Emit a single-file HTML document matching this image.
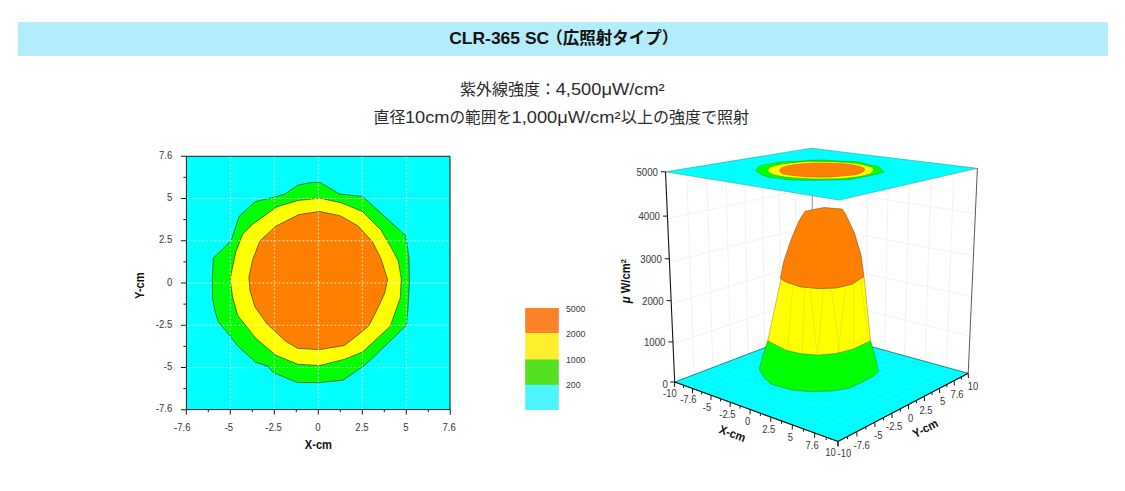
<!DOCTYPE html>
<html lang="ja"><head><meta charset="utf-8"><title>CLR-365 SC</title>
<style>html,body{margin:0;padding:0;background:#fff;}body{width:1125px;height:491px;overflow:hidden;font-family:"Liberation Sans",sans-serif;}svg{display:block;}text{font-family:"Liberation Sans",sans-serif;}text.jp{font-family:"Liberation Sans","Noto Sans CJK JP",sans-serif;}</style>
</head><body>
<svg width="1125" height="491" viewBox="0 0 1125 491" font-family="'Liberation Sans', sans-serif" role="img" aria-label="CLR-365 SC（広照射タイプ） 紫外線強度：4,500μW/cm² 直径10cmの範囲を1,000μW/cm²以上の強度で照射">
<rect x="18" y="22" width="1090" height="34" fill="#b3ecfa"/>
<text x="449.2" y="44" font-size="16.5" fill="#111111" font-weight="bold" text-anchor="start" textLength="100" lengthAdjust="spacingAndGlyphs">CLR-365 SC</text>
<text class="jp" x="546.3" y="44" font-size="16.5" fill="#111111" font-weight="bold" text-anchor="start" textLength="132" lengthAdjust="spacingAndGlyphs">（広照射タイプ）</text>
<text class="jp" x="460" y="94.9" font-size="16" fill="#2b2b2b" font-weight="normal" text-anchor="start" textLength="96" lengthAdjust="spacingAndGlyphs">紫外線強度：</text>
<text x="555.7" y="94.9" font-size="16.5" fill="#2b2b2b" font-weight="normal" text-anchor="start" textLength="109" lengthAdjust="spacingAndGlyphs">4,500μW/cm²</text>
<text class="jp" x="373.5" y="122.9" font-size="16" fill="#2b2b2b" font-weight="normal" text-anchor="start" textLength="32" lengthAdjust="spacingAndGlyphs">直径</text>
<text x="404.9" y="122.9" font-size="16.5" fill="#2b2b2b" font-weight="normal" text-anchor="start" textLength="44.6" lengthAdjust="spacingAndGlyphs">10cm</text>
<text class="jp" x="449.5" y="122.9" font-size="16" fill="#2b2b2b" font-weight="normal" text-anchor="start" textLength="62.5" lengthAdjust="spacingAndGlyphs">の範囲を</text>
<text x="511.5" y="122.9" font-size="16.5" fill="#2b2b2b" font-weight="normal" text-anchor="start" textLength="109" lengthAdjust="spacingAndGlyphs">1,000μW/cm²</text>
<text class="jp" x="621" y="122.9" font-size="16" fill="#2b2b2b" font-weight="normal" text-anchor="start" textLength="128" lengthAdjust="spacingAndGlyphs">以上の強度で照射</text>
<rect x="186.4" y="156.3" width="263.6" height="253.3" fill="#00ffff"/>
<polygon points="319.8,182.2 339.3,194 362.5,196.4 405.5,235.5 408.9,256.5 409.4,282 408,308 406.4,325.2 371.1,359.4 362.5,366.8 343,380.2 319.8,382.6 297.8,382.6 273.5,372.8 267.8,366.3 255.5,362.2 236.8,345 230.3,336.1 218,321.4 214.8,310 212.7,299.6 212.2,280 213.4,258 231.3,240.4 239.1,216.4 255,201.8 284.3,194.4 297.8,185.2 310,182.7" fill="#00ff00" stroke="#223300" stroke-width="0.8" stroke-opacity="0.8" stroke-linejoin="round"/>
<polygon points="319.8,198.1 341.8,203 362.5,211.5 380.9,229.9 390.5,246.3 398.2,260.5 401.3,278.9 400.2,298.3 392.6,319.6 390.2,326.4 362.5,352.1 344.2,359.4 319.8,365.5 297.8,364.3 275.8,355.3 256.2,338.7 237.7,315.5 232.6,297.2 230.1,278.9 235.6,252.4 242.7,234.1 252.5,224.3 277,206.7 297.8,200.5" fill="#ffff00" stroke="#223300" stroke-width="0.8" stroke-opacity="0.8" stroke-linejoin="round"/>
<polygon points="319.8,211.5 340.5,215.9 357.7,225.7 372.3,241.5 380.8,258.5 387.6,279.5 384.6,293.5 374.2,315.5 368.5,326 356.4,336.2 344.2,345.5 319.8,349.6 297.8,348.4 285.5,341.1 267.2,324 255,306.9 250.1,291 248.9,277.5 252.5,260.4 259.9,240.9 275.8,226.2 299,214.5" fill="#ff8000" stroke="#223300" stroke-width="0.8" stroke-opacity="0.8" stroke-linejoin="round"/>
<path d="M230.3 156.3V409.6M186.4 367.5H450M274.3 156.3V409.6M186.4 325.25H450M318.3 156.3V409.6M186.4 283H450M362.3 156.3V409.6M186.4 240.75H450M406.3 156.3V409.6M186.4 198.5H450" stroke="#ffffff" stroke-opacity="0.75" stroke-width="1" stroke-dasharray="2 2" fill="none"/>
<path d="M186.4 156.3H450V409.6H186.4ZM186.3 409.6v5M186.4 409.75h-5.5M230.3 409.6v5M186.4 367.5h-5.5M274.3 409.6v5M186.4 325.25h-5.5M318.3 409.6v5M186.4 283h-5.5M362.3 409.6v5M186.4 240.75h-5.5M406.3 409.6v5M186.4 198.5h-5.5M450.3 409.6v5M186.4 156.25h-5.5M208.3 409.6v2.7M186.4 388.62h-3M252.3 409.6v2.7M186.4 346.38h-3M296.3 409.6v2.7M186.4 304.12h-3M340.3 409.6v2.7M186.4 261.88h-3M384.3 409.6v2.7M186.4 219.62h-3M428.3 409.6v2.7M186.4 177.38h-3" stroke="#1a1a1a" stroke-width="1" fill="none"/>
<text transform="translate(182.3 430.7) scale(0.87 1)" font-size="11" text-anchor="middle" fill="#383838" font-weight="normal">-7.6</text>
<text transform="translate(172.3 412.45) scale(0.87 1)" font-size="11" text-anchor="end" fill="#383838" font-weight="normal">-7.6</text>
<text transform="translate(228.9 430.7) scale(0.87 1)" font-size="11" text-anchor="middle" fill="#383838" font-weight="normal">-5</text>
<text transform="translate(172.3 370.2) scale(0.87 1)" font-size="11" text-anchor="end" fill="#383838" font-weight="normal">-5</text>
<text transform="translate(273.5 430.7) scale(0.87 1)" font-size="11" text-anchor="middle" fill="#383838" font-weight="normal">-2.5</text>
<text transform="translate(172.3 327.95) scale(0.87 1)" font-size="11" text-anchor="end" fill="#383838" font-weight="normal">-2.5</text>
<text transform="translate(318 430.7) scale(0.87 1)" font-size="11" text-anchor="middle" fill="#383838" font-weight="normal">0</text>
<text transform="translate(172.3 285.7) scale(0.87 1)" font-size="11" text-anchor="end" fill="#383838" font-weight="normal">0</text>
<text transform="translate(362 430.7) scale(0.87 1)" font-size="11" text-anchor="middle" fill="#383838" font-weight="normal">2.5</text>
<text transform="translate(172.3 243.45) scale(0.87 1)" font-size="11" text-anchor="end" fill="#383838" font-weight="normal">2.5</text>
<text transform="translate(406 430.7) scale(0.87 1)" font-size="11" text-anchor="middle" fill="#383838" font-weight="normal">5</text>
<text transform="translate(172.3 201.2) scale(0.87 1)" font-size="11" text-anchor="end" fill="#383838" font-weight="normal">5</text>
<text transform="translate(449.1 430.7) scale(0.87 1)" font-size="11" text-anchor="middle" fill="#383838" font-weight="normal">7.6</text>
<text transform="translate(172.3 158.95) scale(0.87 1)" font-size="11" text-anchor="end" fill="#383838" font-weight="normal">7.6</text>
<text transform="translate(318.4 448.8) scale(0.93 1)" font-size="12" text-anchor="middle" fill="#111" font-weight="bold">X-cm</text>
<text transform="translate(144.4 285.6) rotate(-90) scale(0.93 1)" font-size="12" text-anchor="middle" fill="#111" font-weight="bold">Y-cm</text>
<rect x="525.2" y="308" width="33.6" height="25.3" fill="#fd8126"/>
<rect x="525.2" y="333" width="33.6" height="26.7" fill="#ffee2e"/>
<rect x="525.2" y="359.4" width="33.6" height="25.7" fill="#52e020"/>
<rect x="525.2" y="384.8" width="33.6" height="25.2" fill="#4cf5ff"/>
<text transform="translate(566 311.9) scale(0.92 1)" font-size="9.5" text-anchor="start" fill="#383838" font-weight="normal">5000</text>
<text transform="translate(566 337.4) scale(0.92 1)" font-size="9.5" text-anchor="start" fill="#383838" font-weight="normal">2000</text>
<text transform="translate(566 362.9) scale(0.92 1)" font-size="9.5" text-anchor="start" fill="#383838" font-weight="normal">1000</text>
<text transform="translate(566 388.3) scale(0.92 1)" font-size="9.5" text-anchor="start" fill="#383838" font-weight="normal">200</text>
<path d="M694.14 374.58L686.44 168.41M712.81 367.46L706.5 165.15M730.76 360.61L725.73 162.04M748.03 354.02L744.18 159.05M764.65 347.68L761.9 156.17M780.67 341.57L778.94 153.41M796.11 335.68L795.33 150.76M673.04 344L811.02 296.88M671.28 303.87L811.04 262.02M669.46 262.19L811.06 225.95M667.54 218.46L811.08 188.25M828.59 334.85L829.6 150.44M846.72 339.84L848.69 152.74M865.41 344.99L868.4 155.13M884.68 350.29L888.76 157.59M904.56 355.77L909.8 160.13M925.09 361.42L931.57 162.76M946.29 367.26L954.09 165.48M811.02 296.68L969.88 335.94M811.04 261.72L971.64 296.63M811.06 225.63L973.47 255.95M811.08 188.03L975.37 213.45" stroke="#ebebeb" stroke-width="0.7" fill="none"/>
<path d="M812.3 148.2L812.2 330" stroke="#888" stroke-width="0.9" fill="none"/>
<polygon points="674.7,382 838,441.5 968.2,373.3 811,330" fill="#00ffff" stroke="#1a4a4a" stroke-width="0.7"/>
<path d="M681.78 384.58L817.95 331.91M682.51 379.02L845.61 437.51M688.95 387.19L824.99 333.85M690.19 376.09L853.09 433.6M696.23 389.84L832.11 335.82M697.77 373.2L860.43 429.75M703.61 392.53L839.32 337.8M705.23 370.35L867.65 425.97M711.1 395.26L846.63 339.81M712.57 367.55L874.74 422.25M718.7 398.03L854.02 341.85M719.81 364.79L881.71 418.6M726.41 400.84L861.51 343.91M726.95 362.07L888.57 415.01M734.23 403.69L869.09 346M733.98 359.39L895.31 411.48M742.17 406.58L876.77 348.12M740.9 356.74L901.94 408.01M750.23 409.52L884.54 350.26M747.73 354.14L908.46 404.59M758.41 412.5L892.42 352.43M754.46 351.57L914.87 401.23M766.71 415.53L900.4 354.63M761.1 349.04L921.18 397.93M775.14 418.6L908.49 356.85M767.65 346.54L927.39 394.68M783.71 421.72L916.68 359.11M774.1 344.08L933.5 391.48M792.4 424.89L924.98 361.4M780.46 341.65L939.51 388.33M801.24 428.1L933.39 363.71M786.74 339.26L945.43 385.23M810.21 431.37L941.92 366.06M792.93 336.9L951.25 382.18M819.32 434.7L950.56 368.44M799.03 334.57L956.99 379.17M828.59 438.07L959.32 370.85M805.06 332.27L962.64 376.21" stroke="#00d0e0" stroke-opacity="0.2" stroke-width="0.6" fill="none"/>
<polygon points="767.8,340.7 785.6,350 799.9,353.5 818.4,355 835.5,353.5 852.7,349.2 870.5,340.7 874.8,355.7 878.3,371.3 874,375.6 862.6,382 848.4,388.5 829.8,391 811.3,391.6 791.3,389.9 771.4,384.2 764.3,377.8 759.3,369.2 762.8,355.7" fill="#00ff00" stroke="#0a7a0a" stroke-width="0.5"/>
<polygon points="781,279.3 787.1,282.3 800.5,286.8 818.4,288.6 836.4,287.9 852,284.1 864,276.6 870.5,340.7 852.7,349.2 835.5,353.5 818.4,355 799.9,353.5 785.6,350 767.8,340.7 774.4,309.7" fill="#ffff00" stroke="#8a8a00" stroke-width="0.5"/>
<polygon points="805,211.3 824,207.5 842,209 845.3,213.5 854.3,232.6 861,255 863.9,276.3 852,284.1 836.4,287.9 818.4,288.6 800.5,286.8 787.1,282.3 780.3,278.5 783.7,261.7 790.4,241.5 798.7,221.4" fill="#ff8000" stroke="#7a3d00" stroke-width="0.5"/>
<path d="M793 283.2L787.7 349.5M804.9 285.9L802.3 352.1M810.2 287.2L816.8 353.4M823.4 288.5L818.1 353.4M831.4 288.5L839.3 352.1M846 285.9L838 352.1M853.9 284.6L853.9 349.5M860.5 280.6L868.5 340.2" stroke="#c8c800" stroke-opacity="0.55" stroke-width="0.6" fill="none"/>
<polygon points="665.5,171.8 839.3,200.1 977.4,168.3 811.1,148.2" fill="#00ffff" stroke="#2a8a8a" stroke-width="0.5"/>
<polygon points="862.45,162.44 867.3,164.51 877.72,166.15 884.21,172.09 877.6,174.07 867.45,176.29 855.82,178.46 847.61,179.88 814.25,180.3 806.52,180.32 790.57,180.05 778.01,178.53 767.37,176.91 760.42,174.33 760.76,173.39 756.94,172.2 756.23,169.54 757.3,168.41 758.33,166.48 761.92,165.41 765.51,164.5 773.69,163.02 783.47,161.5 798.66,161.31 811.84,160.07 824.78,159.98 841.09,161.19 850.93,161.33 857.62,161.89" fill="#00ff00" stroke="#333300" stroke-width="0.4" stroke-opacity="0.6"/>
<polygon points="856.34,163.61 865.04,165.34 871.89,167.31 873.88,169.97 872.23,171.95 870.45,173.66 864.53,175.44 855.86,177.03 842.85,178.34 838.67,178.77 813.16,179 800.69,178.28 785.9,177.03 775.83,175.34 769.53,173.03 767.92,170.34 769.76,167.29 775.42,165.57 782.12,164.04 795.66,162.43 806.34,161.54 814.72,161.43 832.91,161.63 845.01,162.44" fill="#ffff00" stroke="#333300" stroke-width="0.4" stroke-opacity="0.6"/>
<polygon points="851.12,164.6 859.38,166.24 863.96,168.11 864.95,170.33 862.38,172.29 857.23,174.51 849.85,175.49 835.19,176.64 827.74,177.13 817.17,177.14 806.95,177.06 793.11,175.65 783.05,173.99 780.49,172.53 779.53,169.9 781.39,167.75 786,166.21 791.19,165.11 799.99,164.06 811.38,163.08 824.62,162.97 840.08,163.54" fill="#ff8000" stroke="#333300" stroke-width="0.4" stroke-opacity="0.6"/>
<path d="M665.5 171.8L674.7 382M674.7 382L838 441.5L968.2 373.3" stroke="#111" stroke-width="1.1" fill="none"/>
<path d="M977.4 168.3L968.2 373.3" stroke="#444" stroke-width="0.9" fill="none"/>
<text transform="translate(668 387.9) scale(0.88 1)" font-size="11" text-anchor="end" fill="#383838" font-weight="normal">0</text>
<text transform="translate(665.44 345.8) scale(0.88 1)" font-size="11" text-anchor="end" fill="#383838" font-weight="normal">1000</text>
<text transform="translate(663.64 304.5) scale(0.88 1)" font-size="11" text-anchor="end" fill="#383838" font-weight="normal">2000</text>
<text transform="translate(661.81 262.7) scale(0.88 1)" font-size="11" text-anchor="end" fill="#383838" font-weight="normal">3000</text>
<text transform="translate(659.94 220) scale(0.88 1)" font-size="11" text-anchor="end" fill="#383838" font-weight="normal">4000</text>
<text transform="translate(658 175.7) scale(0.88 1)" font-size="11" text-anchor="end" fill="#383838" font-weight="normal">5000</text>
<path d="M674.7 382h-4.5M672.94 341.9h-4.5M671.14 300.6h-4.5M669.31 258.8h-4.5M667.44 216.1h-4.5M665.5 171.8h-4.5M674.7 382l-0.2 4.8M838 441.5l0.2 4.8M692.58 388.51l-0.2 4.8M856.77 431.67l0.2 4.8M711.1 395.26l-0.2 4.8M874.74 422.25l0.2 4.8M730.3 402.26l-0.2 4.8M891.95 413.24l0.2 4.8M750.23 409.52l-0.2 4.8M908.46 404.59l0.2 4.8M770.91 417.06l-0.2 4.8M924.3 396.3l0.2 4.8M792.4 424.89l-0.2 4.8M939.51 388.33l0.2 4.8M814.75 433.03l-0.2 4.8M954.13 380.67l0.2 4.8M838 441.5l-0.2 4.8M968.2 373.3l0.2 4.8M683.56 385.23l-0.1 2.7M847.49 436.53l0.1 2.7M701.75 391.86l-0.1 2.7M865.86 426.91l0.1 2.7M720.61 398.73l-0.1 2.7M883.44 417.7l0.1 2.7M740.17 405.86l-0.1 2.7M900.29 408.87l0.1 2.7M760.47 413.25l-0.1 2.7M916.46 400.4l0.1 2.7M781.55 420.93l-0.1 2.7M931.98 392.27l0.1 2.7M803.47 428.92l-0.1 2.7M946.89 384.46l0.1 2.7M826.26 437.22l-0.1 2.7M961.23 376.95l0.1 2.7" stroke="#111" stroke-width="1" fill="none"/>
<text transform="translate(669.9 397.3) scale(0.86 1)" font-size="11" text-anchor="middle" fill="#383838" font-weight="normal">-10</text>
<text transform="translate(688.3 403.1) scale(0.86 1)" font-size="11" text-anchor="middle" fill="#383838" font-weight="normal">-7.6</text>
<text transform="translate(707 410.9) scale(0.86 1)" font-size="11" text-anchor="middle" fill="#383838" font-weight="normal">-5</text>
<text transform="translate(727.4 418.3) scale(0.86 1)" font-size="11" text-anchor="middle" fill="#383838" font-weight="normal">-2.5</text>
<text transform="translate(747.5 424.9) scale(0.86 1)" font-size="11" text-anchor="middle" fill="#383838" font-weight="normal">0</text>
<text transform="translate(768.7 433.4) scale(0.86 1)" font-size="11" text-anchor="middle" fill="#383838" font-weight="normal">2.5</text>
<text transform="translate(790.4 440.8) scale(0.86 1)" font-size="11" text-anchor="middle" fill="#383838" font-weight="normal">5</text>
<text transform="translate(812.1 448.8) scale(0.86 1)" font-size="11" text-anchor="middle" fill="#383838" font-weight="normal">7.6</text>
<text transform="translate(830.4 455.9) scale(0.86 1)" font-size="11" text-anchor="middle" fill="#383838" font-weight="normal">10</text>
<text transform="translate(844.4 456.5) scale(0.86 1)" font-size="11" text-anchor="middle" fill="#383838" font-weight="normal">-10</text>
<text transform="translate(861.7 449.1) scale(0.86 1)" font-size="11" text-anchor="middle" fill="#383838" font-weight="normal">-7.6</text>
<text transform="translate(878.3 438.7) scale(0.86 1)" font-size="11" text-anchor="middle" fill="#383838" font-weight="normal">-5</text>
<text transform="translate(894.2 430) scale(0.86 1)" font-size="11" text-anchor="middle" fill="#383838" font-weight="normal">-2.5</text>
<text transform="translate(910.7 422) scale(0.86 1)" font-size="11" text-anchor="middle" fill="#383838" font-weight="normal">0</text>
<text transform="translate(926 413.6) scale(0.86 1)" font-size="11" text-anchor="middle" fill="#383838" font-weight="normal">2.5</text>
<text transform="translate(942.5 405.4) scale(0.86 1)" font-size="11" text-anchor="middle" fill="#383838" font-weight="normal">5</text>
<text transform="translate(957 398.2) scale(0.86 1)" font-size="11" text-anchor="middle" fill="#383838" font-weight="normal">7.6</text>
<text transform="translate(972.9 389.5) scale(0.86 1)" font-size="11" text-anchor="middle" fill="#383838" font-weight="normal">10</text>
<text transform="translate(731.1 437.4) rotate(20) scale(0.93 1)" font-size="12" text-anchor="middle" fill="#111" font-weight="bold">X-cm</text>
<text transform="translate(927.2 432) rotate(-27.5) scale(0.93 1)" font-size="12" text-anchor="middle" fill="#111" font-weight="bold">Y-cm</text>
<text transform="translate(629.8 281.2) rotate(-90) scale(0.94 1)" font-size="12" text-anchor="middle" fill="#111" font-weight="bold"><tspan font-style="italic">μ</tspan> W/cm<tspan font-size="8" dy="-4">2</tspan></text>
</svg>
</body></html>
